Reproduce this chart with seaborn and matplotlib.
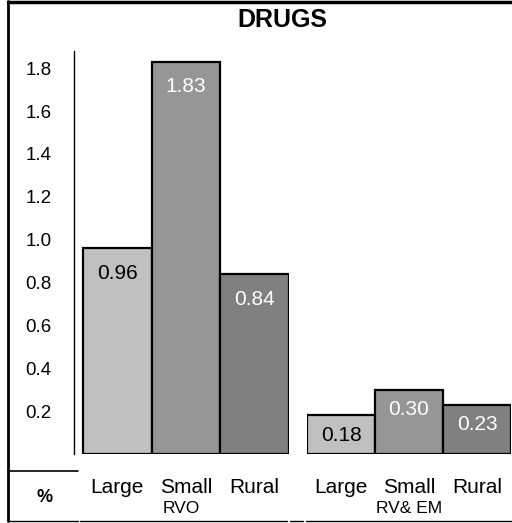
import matplotlib.pyplot as plt
import seaborn as sns
from matplotlib.lines import Line2D

sizes = ["Large", "Small", "Rural"]
rvo = [0.96, 1.83, 0.84]
rv_em = [0.18, 0.30, 0.23]
groups = ["RVO", "RV& EM"]
yticks = [0.2, 0.4, 0.6, 0.8, 1.0, 1.2, 1.4, 1.6, 1.8]

bar_colors = ["#c0c0c0", "#969696", "#808080"]
label_colors = ["black", "white", "white"]

sns.set_style("white")
plt.rcParams["font.family"] = ["Liberation Sans Narrow", "Liberation Sans", "DejaVu Sans"]
plt.rcParams["text.color"] = "black"
plt.rcParams["axes.labelcolor"] = "black"
plt.rcParams["xtick.color"] = "black"
plt.rcParams["ytick.color"] = "black"
wide = ["Liberation Sans", "DejaVu Sans"]

W, H = 512, 523
fig = plt.figure(figsize=(W / 100, H / 100), dpi=100)

ax1 = fig.add_axes([74 / W, 1 - 454 / H, 215 / W, 403 / H])
ax2 = fig.add_axes([307 / W, 1 - 454 / H, 204 / W, 403 / H])

for ax, vals, grp, pad in [(ax1, rvo, groups[0], -25), (ax2, rv_em, groups[1], -21)]:
    sns.barplot(x=sizes, y=vals, hue=sizes, palette=bar_colors, width=1,
                edgecolor="black", linewidth=1.6, legend=False, ax=ax)
    ax.set_ylim(0, 1.88)
    for c, txt_col in zip(ax.containers, label_colors):
        ax.bar_label(c, fmt="%.2f", padding=pad, color=txt_col, fontsize=15)
    ax.set_xticks(range(3))
    ax.set_xticklabels(sizes, family=wide, fontsize=15)
    ax.tick_params(axis="x", length=0, pad=17)
    ax.set_xlabel(grp, fontsize=12.5, labelpad=3)
    ax.set_ylabel("")
    for s in ax.spines.values():
        s.set_visible(False)
    ax.grid(False)

ax1.set_xlim(-0.631, 2.5)
ax2.set_xlim(-0.5, 2.5)
ax1.spines["left"].set_visible(True)
ax1.spines["left"].set_linewidth(1.0)
ax1.spines["left"].set_color("black")
ax1.set_yticks(yticks)
ax1.set_yticklabels([f"{t:.1f}" for t in yticks], fontsize=13.5)
ax1.tick_params(axis="y", length=0, pad=16)
ax2.set_yticks([])

fig.text(282 / W, 1 - 20 / H, "DRUGS", ha="center", va="center",
         fontsize=18, fontweight="bold", family=wide)
fig.text(45 / W, 1 - 498 / H, "%", ha="center", va="center",
         fontsize=13, fontweight="bold", family=wide)

def hline(x0, x1, y, lw):
    fig.add_artist(Line2D([x0 / W, x1 / W], [1 - y / H, 1 - y / H], color="black", lw=lw))

def vline(x, y0, y1, lw):
    fig.add_artist(Line2D([x / W, x / W], [1 - y0 / H, 1 - y1 / H], color="black", lw=lw))

vline(8, 1, 521, 2)
hline(8, 512, 2, 2.5)
hline(8, 78, 471, 1.2)
for x0, x1 in [(8, 78), (80, 287), (290, 303), (306, 512)]:
    hline(x0, x1, 521, 1)

fig.savefig("out.png", dpi=100)
